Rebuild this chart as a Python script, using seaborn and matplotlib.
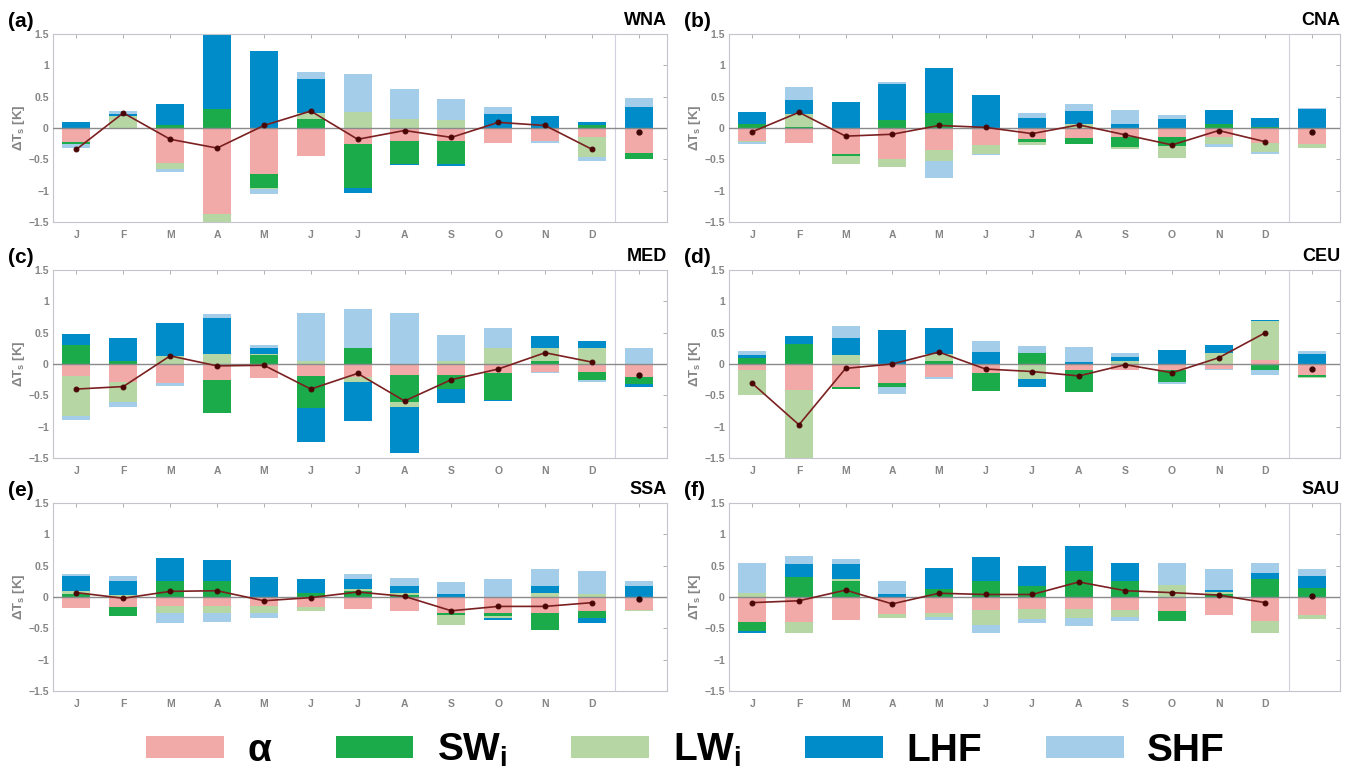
import matplotlib

matplotlib.use("Agg")

import matplotlib.pyplot as plt
import numpy as np
import seaborn as sns
from matplotlib.patches import Patch

# --- data (J..D plus annual mean), values in K -------------------------------
months = ["J", "F", "M", "A", "M", "J", "J", "A", "S", "O", "N", "D", ""]
regions = ["WNA", "CNA", "MED", "CEU", "SSA", "SAU"]
panel_tags = ["(a)", "(b)", "(c)", "(d)", "(e)", "(f)"]
components = ["alpha", "sw", "lw", "lhf", "shf"]
legend_labels = ["α", "SW$_\\mathregular{i}$", "LW$_\\mathregular{i}$", "LHF", "SHF"]

wna_alpha = [-0.22, -0.02, -0.56, -1.37, -0.73, -0.45, -0.25, -0.21, -0.21, -0.24, -0.20, -0.15, -0.40]
wna_sw = [-0.04, 0.00, 0.04, 0.30, -0.23, 0.14, -0.71, -0.36, -0.37, 0.00, 0.00, 0.04, -0.10]
wna_lw = [0.00, 0.19, -0.10, -0.25, -0.01, 0.10, 0.26, 0.14, 0.12, 0.00, 0.00, -0.31, 0.00]
wna_lhf = [0.09, 0.04, 0.35, 1.25, 1.23, 0.54, -0.08, -0.02, -0.02, 0.22, 0.19, 0.06, 0.34]
wna_shf = [-0.06, 0.04, -0.04, 0.00, -0.08, 0.11, 0.60, 0.48, 0.35, 0.12, -0.04, -0.07, 0.14]
wna_net = [-0.34, 0.24, -0.18, -0.32, 0.04, 0.27, -0.18, -0.04, -0.15, 0.09, 0.04, -0.34, -0.07]

cna_alpha = [-0.20, -0.24, -0.41, -0.50, -0.35, -0.27, -0.18, -0.16, -0.14, -0.15, -0.14, -0.24, -0.25]
cna_sw = [0.07, 0.02, -0.04, 0.13, 0.24, 0.00, -0.04, -0.09, -0.17, -0.13, 0.07, 0.02, 0.00]
cna_lw = [-0.03, 0.20, -0.12, -0.13, -0.18, -0.14, -0.05, 0.06, -0.03, -0.20, -0.12, -0.14, -0.07]
cna_lhf = [0.18, 0.22, 0.42, 0.57, 0.71, 0.53, 0.16, 0.21, 0.07, 0.15, 0.21, 0.14, 0.30]
cna_shf = [-0.02, 0.21, 0.00, 0.03, -0.27, -0.02, 0.08, 0.12, 0.21, 0.06, -0.04, -0.03, 0.02]
cna_net = [-0.06, 0.25, -0.13, -0.10, 0.04, 0.01, -0.09, 0.05, -0.11, -0.27, -0.04, -0.22, -0.06]

med_alpha = [-0.19, -0.29, -0.31, -0.26, -0.22, -0.19, -0.20, -0.18, -0.18, -0.15, -0.13, -0.13, -0.20]
med_sw = [0.30, 0.04, 0.00, -0.52, 0.14, -0.51, 0.26, -0.42, -0.22, -0.42, 0.04, -0.12, -0.12]
med_lw = [-0.64, -0.31, 0.12, 0.16, 0.02, 0.05, -0.09, -0.08, 0.05, 0.25, 0.22, 0.26, 0.00]
med_lhf = [0.18, 0.37, 0.54, 0.57, 0.09, -0.55, -0.62, -0.74, -0.23, -0.02, 0.18, 0.11, -0.05]
med_shf = [-0.07, -0.08, -0.04, 0.06, 0.06, 0.77, 0.62, 0.82, 0.42, 0.32, -0.02, -0.04, 0.26]
med_net = [-0.40, -0.36, 0.13, -0.03, -0.02, -0.40, -0.15, -0.59, -0.25, -0.08, 0.18, 0.03, -0.17]

ceu_alpha = [-0.10, -0.41, -0.37, -0.30, -0.20, -0.15, -0.02, -0.09, -0.09, -0.10, -0.08, 0.07, -0.17]
ceu_sw = [0.10, 0.32, -0.03, -0.06, 0.04, -0.28, 0.17, -0.36, 0.00, -0.19, 0.00, -0.10, -0.03]
ceu_lw = [-0.40, -1.20, 0.14, 0.00, 0.12, 0.00, -0.22, 0.00, 0.04, 0.00, 0.18, 0.61, -0.03]
ceu_lhf = [0.05, 0.12, 0.28, 0.55, 0.41, 0.19, -0.13, 0.03, 0.07, 0.22, 0.12, 0.03, 0.16]
ceu_shf = [0.05, 0.00, 0.19, -0.12, -0.04, 0.18, 0.12, 0.24, 0.06, -0.03, -0.02, -0.08, 0.04]
ceu_net = [-0.31, -0.97, -0.07, 0.00, 0.19, -0.08, -0.12, -0.19, -0.01, -0.14, 0.10, 0.50, -0.08]

ssa_alpha = [-0.18, -0.16, -0.15, -0.15, -0.15, -0.16, -0.19, -0.22, -0.25, -0.25, -0.25, -0.22, -0.20]
ssa_sw = [0.05, -0.14, 0.25, 0.25, 0.00, 0.06, 0.10, 0.03, -0.03, -0.05, -0.28, -0.12, 0.00]
ssa_lw = [0.04, 0.03, -0.10, -0.10, -0.10, -0.07, 0.02, 0.03, -0.16, -0.03, 0.06, 0.04, -0.02]
ssa_lhf = [0.24, 0.22, 0.38, 0.34, 0.32, 0.22, 0.17, 0.11, 0.05, -0.03, 0.12, -0.08, 0.17]
ssa_shf = [0.04, 0.09, -0.17, -0.15, -0.08, 0.00, 0.07, 0.13, 0.19, 0.29, 0.27, 0.38, 0.09]
ssa_net = [0.07, -0.02, 0.09, 0.10, -0.06, -0.01, 0.08, 0.01, -0.22, -0.15, -0.15, -0.09, -0.03]

sau_alpha = [-0.40, -0.40, -0.36, -0.27, -0.25, -0.20, -0.19, -0.19, -0.20, -0.23, -0.29, -0.38, -0.29]
sau_sw = [-0.14, 0.32, 0.25, 0.00, 0.13, 0.26, 0.18, 0.42, 0.26, -0.16, 0.04, 0.28, 0.15]
sau_lw = [0.07, -0.17, 0.03, -0.07, -0.07, -0.25, -0.16, -0.14, -0.12, 0.19, 0.04, -0.19, -0.06]
sau_lhf = [-0.03, 0.20, 0.24, 0.05, 0.34, 0.38, 0.31, 0.40, 0.28, 0.00, 0.03, 0.10, 0.18]
sau_shf = [0.48, 0.13, 0.08, 0.21, -0.05, -0.12, -0.07, -0.13, -0.07, 0.36, 0.34, 0.16, 0.12]
sau_net = [-0.09, -0.06, 0.11, -0.11, 0.06, 0.04, 0.04, 0.24, 0.10, 0.07, 0.03, -0.09, 0.02]

region_data = {
    "WNA": [wna_alpha, wna_sw, wna_lw, wna_lhf, wna_shf, wna_net],
    "CNA": [cna_alpha, cna_sw, cna_lw, cna_lhf, cna_shf, cna_net],
    "MED": [med_alpha, med_sw, med_lw, med_lhf, med_shf, med_net],
    "CEU": [ceu_alpha, ceu_sw, ceu_lw, ceu_lhf, ceu_shf, ceu_net],
    "SSA": [ssa_alpha, ssa_sw, ssa_lw, ssa_lhf, ssa_shf, ssa_net],
    "SAU": [sau_alpha, sau_sw, sau_lw, sau_lhf, sau_shf, sau_net],
}

colors = ["#f2aaa8", "#1bab4a", "#b6d7a4", "#008bc9", "#a3cde8"]
grey = "#858585"

sns.set_theme(style="white")
plt.rcParams["font.family"] = ["Liberation Sans", "DejaVu Sans"]

W, H = 1347, 775
fig = plt.figure(figsize=(W / 100, H / 100), dpi=100)

# axes boxes in pixels: (left, top, right, bottom)
col_x = [(53, 667), (729, 1340)]
row_y = [(34, 222), (270, 458), (503, 691)]

x = np.arange(1, 14)

for k, region in enumerate(regions):
    r, c = divmod(k, 2)
    x0, x1 = col_x[c]
    y0, y1 = row_y[r]
    ax = fig.add_axes([x0 / W, 1 - y1 / H, (x1 - x0) / W, (y1 - y0) / H])

    parts = region_data[region]
    pos_base = np.zeros(13)
    neg_base = np.zeros(13)
    for vals, col in zip(parts[:5], colors):
        v = np.asarray(vals, dtype=float)
        base = np.where(v >= 0, pos_base, neg_base)
        ax.bar(x, v, width=0.6, bottom=base, color=col, edgecolor="none", zorder=2)
        pos_base = pos_base + np.clip(v, 0, None)
        neg_base = neg_base + np.clip(v, None, 0)

    ax.axhline(0, color="#8a8a8a", lw=1.0, zorder=3)
    ax.axvline(12.5, color="#d0d0e0", lw=0.8, zorder=1)

    net = np.asarray(parts[5], dtype=float)
    sns.lineplot(x=x[:12], y=net[:12], ax=ax, color="#7b2020", lw=1.2,
                 marker="o", markersize=3.5, markeredgecolor="#4a0505",
                 markerfacecolor="#4a0505", zorder=4)
    ax.plot(x[12], net[12], "o", ms=3.5, color="#3a0505", zorder=4)

    ax.set_xlim(0.5, 13.6)
    ax.set_ylim(-1.5, 1.5)
    ax.set_yticks([-1.5, -1, -0.5, 0, 0.5, 1, 1.5])
    ax.set_yticklabels(["\u22121.5", "\u22121", "\u22120.5", "0", "0.5", "1", "1.5"])
    ax.set_xticks(x)
    ax.set_xticklabels(months)
    ax.tick_params(axis="both", direction="in", length=3, width=0.7, color="#b0b0b0",
                   labelsize=7.5, labelcolor=grey, top=True, right=True)
    ax.tick_params(axis="x", pad=6)
    ax.tick_params(axis="y", pad=3)
    for lab in ax.get_xticklabels() + ax.get_yticklabels():
        lab.set_fontweight("bold")
    for sp in ax.spines.values():
        sp.set_color("#c4c4cc")
        sp.set_linewidth(0.8)
    ax.set_ylabel("ΔT$_\\mathregular{s}$ [K]", color=grey, fontsize=9.5, fontweight="bold", labelpad=1)

    fig.text((x0 - 45) / W, 1 - (y0 - 22) / H, panel_tags[k], ha="left", va="top",
             fontsize=15, fontweight="bold", color="black")
    fig.text(x1 / W, 1 - (y0 - 5) / H, region, ha="right", va="bottom",
             fontsize=13, fontweight="bold", color="black")

handles = [Patch(facecolor=col, edgecolor="none") for col in colors]
fig.legend(handles, legend_labels, loc="center", bbox_to_anchor=(0.509, 0.032), ncol=5,
           frameon=False, prop={"size": 28, "weight": "bold"}, labelcolor="black",
           handlelength=2.0, handleheight=0.5, handletextpad=0.6, columnspacing=1.65)

fig.savefig("out.png", dpi=100)
